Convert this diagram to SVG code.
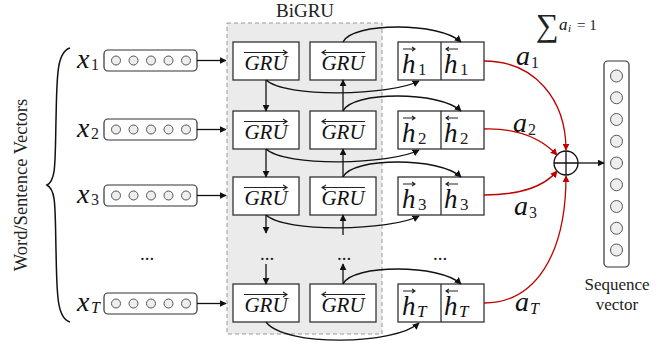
<svg xmlns="http://www.w3.org/2000/svg" width="668" height="345" viewBox="0 0 668 345">
  <style>
    .txt { font-family: "Liberation Serif", "DejaVu Serif", serif; fill: #222; }
    .math { font-family: "Liberation Serif", "DejaVu Serif", serif; font-style: italic; fill: #111; }
    .box { fill: #fff; stroke: #333; stroke-width: 1.3; }
    .vec { fill: #fff; stroke: #333; stroke-width: 1.2; }
    .cell { fill: #eee; stroke: #555; stroke-width: 1; }
    .conn { fill: none; stroke: #111; stroke-width: 1.3; }
    .att { fill: none; stroke: #c00000; stroke-width: 1.3; }
    .ovl { stroke: #222; stroke-width: 1.1; fill: none; }
  </style>
  <defs>
    <marker id="ah" viewBox="0 0 10 10" refX="9" refY="5" markerWidth="7" markerHeight="7" markerUnits="userSpaceOnUse" orient="auto">
      <path d="M0,0 L10,5 L0,10 z" fill="#111"/>
    </marker>
    <marker id="ahr" viewBox="0 0 10 10" refX="9" refY="5" markerWidth="7" markerHeight="7" markerUnits="userSpaceOnUse" orient="auto">
      <path d="M0,0 L10,5 L0,10 z" fill="#c00000"/>
    </marker>
    <g id="cells5">
      <circle cx="0" cy="0" r="4.5" class="cell"/>
      <circle cx="17.5" cy="0" r="4.5" class="cell"/>
      <circle cx="35" cy="0" r="4.5" class="cell"/>
      <circle cx="52.5" cy="0" r="4.5" class="cell"/>
      <circle cx="70" cy="0" r="4.5" class="cell"/>
    </g>
    <g id="fwd">
      <rect x="0" y="0" width="66" height="38" class="box"/>
      <text x="33" y="28" text-anchor="middle" class="math" font-size="21">GRU</text>
      <path d="M11,10.5 H54 M50,8 L54,10.5 L50,13" class="ovl"/>
    </g>
    <g id="bwd">
      <rect x="0" y="0" width="66" height="38" class="box"/>
      <text x="33" y="28" text-anchor="middle" class="math" font-size="21">GRU</text>
      <path d="M12,10.5 H55 M16,8 L12,10.5 L16,13" class="ovl"/>
    </g>
  </defs>

  <!-- brace and side label -->
  <g id="inputs-label">
    <path d="M70,48 C56,52 57,80 56,120 C55,165 56,180 47,185 C56,190 55,205 56,250 C57,290 56,318 70,322" fill="none" stroke="#111" stroke-width="1.5"/>
    <text class="txt" font-size="18.5" transform="translate(27,185) rotate(-90)" text-anchor="middle">Word/Sentence Vectors</text>
  </g>

  <!-- BiGRU region -->
  <g id="bigru">
    <rect x="227" y="23" width="155" height="311" fill="#ebebeb" stroke="#999" stroke-width="1" stroke-dasharray="4,3"/>
    <text x="305" y="17" text-anchor="middle" class="txt" font-size="19">BiGRU</text>
  </g>

  <!-- input vectors -->
  <g id="x1">
    <text x="77" y="68" class="math" font-size="28">x</text><text x="91" y="70" class="txt" font-size="16">1</text>
    <rect x="104" y="50" width="93" height="21" rx="4" class="vec"/>
    <use href="#cells5" x="116" y="60.5"/>
  </g>
  <g id="x2">
    <text x="77" y="137" class="math" font-size="28">x</text><text x="91" y="139" class="txt" font-size="16">2</text>
    <rect x="104" y="119" width="93" height="21" rx="4" class="vec"/>
    <use href="#cells5" x="116" y="129.5"/>
  </g>
  <g id="x3">
    <text x="77" y="203" class="math" font-size="28">x</text><text x="91" y="205" class="txt" font-size="16">3</text>
    <rect x="104" y="185" width="93" height="21" rx="4" class="vec"/>
    <use href="#cells5" x="116" y="195.5"/>
  </g>
  <g id="xdots">
    <text x="147" y="260" text-anchor="middle" class="txt" font-size="19">...</text>
  </g>
  <g id="xT">
    <text x="77" y="311" class="math" font-size="28">x</text><text x="91" y="313" class="math" font-size="16">T</text>
    <rect x="104" y="293" width="93" height="21" rx="4" class="vec"/>
    <use href="#cells5" x="116" y="303.5"/>
  </g>

  <!-- GRU cells -->
  <g id="gru-f1"><use href="#fwd" x="233" y="42"/></g>
  <g id="gru-b1"><use href="#bwd" x="310" y="42"/></g>
  <g id="gru-f2"><use href="#fwd" x="233" y="111"/></g>
  <g id="gru-b2"><use href="#bwd" x="310" y="111"/></g>
  <g id="gru-f3"><use href="#fwd" x="233" y="177"/></g>
  <g id="gru-b3"><use href="#bwd" x="310" y="177"/></g>
  <g id="gru-dots">
    <text x="267" y="260" text-anchor="middle" class="txt" font-size="19">...</text>
    <text x="344" y="260" text-anchor="middle" class="txt" font-size="19">...</text>
  </g>
  <g id="gru-fT"><use href="#fwd" x="233" y="284"/></g>
  <g id="gru-bT"><use href="#bwd" x="310" y="284"/></g>

  <!-- hidden states -->
  <g id="h1">
    <rect x="398" y="42" width="86" height="38" class="box"/>
    <line x1="441" y1="42" x2="441" y2="80" stroke="#333" stroke-width="1.3"/>
    <text x="402" y="73" class="math" font-size="27">h</text><text x="418" y="75" class="txt" font-size="17">1</text>
    <path d="M403,49 H415 M412,47 L415,49 L412,51" class="ovl"/>
    <text x="444" y="73" class="math" font-size="27">h</text><text x="460" y="75" class="txt" font-size="17">1</text>
    <path d="M446,49 H458 M449,47 L446,49 L449,51" class="ovl"/>
  </g>
  <g id="h2">
    <rect x="398" y="111" width="86" height="38" class="box"/>
    <line x1="441" y1="111" x2="441" y2="149" stroke="#333" stroke-width="1.3"/>
    <text x="402" y="142" class="math" font-size="27">h</text><text x="418" y="144" class="txt" font-size="17">2</text>
    <path d="M403,118 H415 M412,116 L415,118 L412,120" class="ovl"/>
    <text x="444" y="142" class="math" font-size="27">h</text><text x="460" y="144" class="txt" font-size="17">2</text>
    <path d="M446,118 H458 M449,116 L446,118 L449,120" class="ovl"/>
  </g>
  <g id="h3">
    <rect x="398" y="177" width="86" height="38" class="box"/>
    <line x1="441" y1="177" x2="441" y2="215" stroke="#333" stroke-width="1.3"/>
    <text x="402" y="208" class="math" font-size="27">h</text><text x="418" y="210" class="txt" font-size="17">3</text>
    <path d="M403,184 H415 M412,182 L415,184 L412,186" class="ovl"/>
    <text x="444" y="208" class="math" font-size="27">h</text><text x="460" y="210" class="txt" font-size="17">3</text>
    <path d="M446,184 H458 M449,182 L446,184 L449,186" class="ovl"/>
  </g>
  <g id="hdots">
    <text x="440" y="260" text-anchor="middle" class="txt" font-size="19">...</text>
  </g>
  <g id="hT">
    <rect x="398" y="284" width="86" height="38" class="box"/>
    <line x1="441" y1="284" x2="441" y2="322" stroke="#333" stroke-width="1.3"/>
    <text x="402" y="315" class="math" font-size="27">h</text><text x="417" y="317" class="math" font-size="17">T</text>
    <path d="M403,291 H415 M412,289 L415,291 L412,293" class="ovl"/>
    <text x="444" y="315" class="math" font-size="27">h</text><text x="459" y="317" class="math" font-size="17">T</text>
    <path d="M446,291 H458 M449,289 L446,291 L449,293" class="ovl"/>
  </g>

  <!-- attention sum -->
  <g id="sum">
    <circle cx="566" cy="163" r="12" fill="#fff" stroke="#111" stroke-width="1.3"/>
    <path d="M554,163 H578 M566,151 V175" stroke="#111" stroke-width="1.3"/>
  </g>
  <g id="sum-label">
    <text x="536" y="36" class="txt" font-size="32">∑</text>
    <text x="559" y="30" class="math" font-size="17">a</text><text x="568" y="32" class="math" font-size="11">i</text>
    <text x="577" y="30" class="txt" font-size="15">= 1</text>
  </g>

  <!-- sequence vector -->
  <g id="seqvec">
    <rect x="604" y="61" width="25" height="206" rx="4" class="vec"/>
    <circle cx="616.5" cy="76" r="6" class="cell"/>
    <circle cx="616.5" cy="97.75" r="6" class="cell"/>
    <circle cx="616.5" cy="119.5" r="6" class="cell"/>
    <circle cx="616.5" cy="141.25" r="6" class="cell"/>
    <circle cx="616.5" cy="163" r="6" class="cell"/>
    <circle cx="616.5" cy="184.75" r="6" class="cell"/>
    <circle cx="616.5" cy="206.5" r="6" class="cell"/>
    <circle cx="616.5" cy="228.25" r="6" class="cell"/>
    <circle cx="616.5" cy="250" r="6" class="cell"/>
    <text x="617" y="290" text-anchor="middle" class="txt" font-size="17">Sequence</text>
    <text x="617" y="310" text-anchor="middle" class="txt" font-size="17">vector</text>
  </g>

  <!-- connectors -->
  <g id="connectors">
    <!-- inputs into the GRU layer -->
    <path d="M197,60.5 H226" class="conn" marker-end="url(#ah)"/>
    <path d="M197,129.5 H226" class="conn" marker-end="url(#ah)"/>
    <path d="M197,195.5 H226" class="conn" marker-end="url(#ah)"/>
    <path d="M197,303.5 H226" class="conn" marker-end="url(#ah)"/>

    <!-- forward chain (down) -->
    <path d="M266,80 V111" class="conn" marker-end="url(#ah)"/>
    <path d="M266,149 V177" class="conn" marker-end="url(#ah)"/>
    <path d="M266,215 V233" class="conn" marker-end="url(#ah)"/>
    <path d="M266,264 V284" class="conn" marker-end="url(#ah)"/>

    <!-- backward chain (up) -->
    <path d="M343,111 V80" class="conn" marker-end="url(#ah)"/>
    <path d="M343,177 V149" class="conn" marker-end="url(#ah)"/>
    <path d="M343,235 V215" class="conn" marker-end="url(#ah)"/>
    <path d="M343,284 V264" class="conn" marker-end="url(#ah)"/>

    <!-- forward outputs to h-> -->
    <path d="M266,80 C285,98 390,96 419,81" class="conn" marker-end="url(#ah)"/>
    <path d="M266,149 C285,167 390,165 419,150" class="conn" marker-end="url(#ah)"/>
    <path d="M266,215 C285,233 390,231 419,216" class="conn" marker-end="url(#ah)"/>
    <path d="M266,322 C285,347 395,345 419,323" class="conn" marker-end="url(#ah)"/>

    <!-- backward outputs to h<- -->
    <path d="M343,42 C352,22 440,22 461,42" class="conn" marker-end="url(#ah)"/>
    <path d="M343,111 C352,91 440,91 461,111" class="conn" marker-end="url(#ah)"/>
    <path d="M343,177 C352,157 440,157 461,177" class="conn" marker-end="url(#ah)"/>
    <path d="M343,284 C352,264 440,264 461,284" class="conn" marker-end="url(#ah)"/>

    <!-- attention weights -->
    <path d="M484,61 C535,61 566,100 566,150" class="att" marker-end="url(#ahr)"/>
    <path d="M484,129 C515,128 540,137 557,155" class="att" marker-end="url(#ahr)"/>
    <path d="M484,195 C520,195 545,186 557,171" class="att" marker-end="url(#ahr)"/>
    <path d="M484,303 C535,303 566,255 566,176" class="att" marker-end="url(#ahr)"/>

    <!-- pooled output -->
    <path d="M578,163 H604" class="conn" marker-end="url(#ah)"/>
  </g>

  <!-- attention labels -->
  <g id="att-labels">
    <text x="516" y="65" class="math" font-size="28">a</text><text x="531" y="68" class="txt" font-size="16">1</text>
    <text x="513" y="132" class="math" font-size="28">a</text><text x="528" y="135" class="txt" font-size="16">2</text>
    <text x="514" y="215" class="math" font-size="28">a</text><text x="529" y="218" class="txt" font-size="16">3</text>
    <text x="515" y="311" class="math" font-size="28">a</text><text x="530" y="314" class="math" font-size="16">T</text>
  </g>
</svg>
